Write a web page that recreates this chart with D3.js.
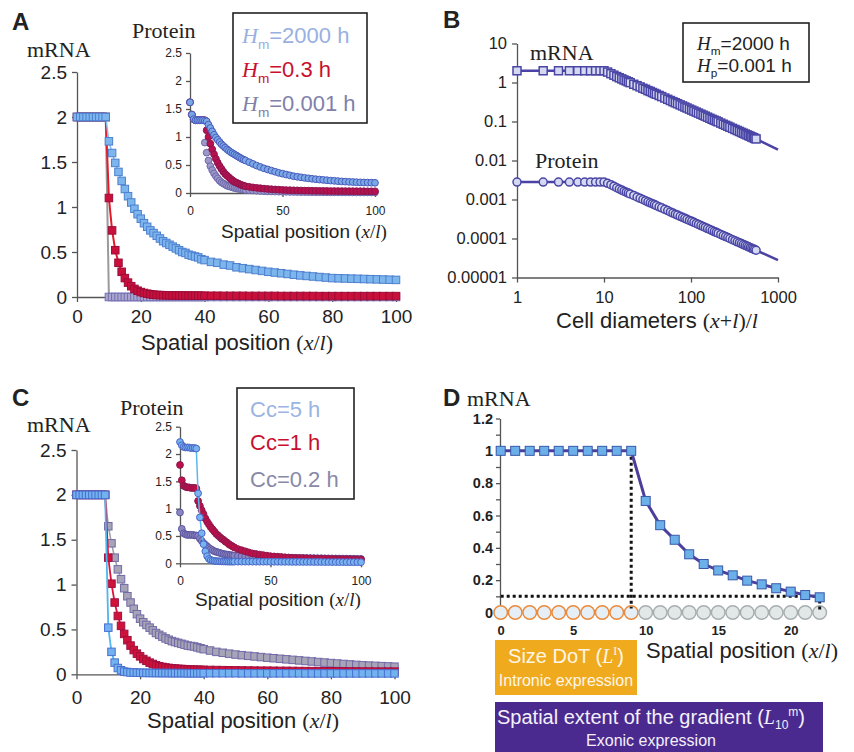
<!DOCTYPE html>
<html>
<head>
<meta charset="utf-8">
<script src="https://cdn.jsdelivr.net/npm/d3@7"></script>
<style>
body { margin: 0; background: #fff; }
text { font-family: "Liberation Sans", Arial, sans-serif; fill: #222; }
.serif { font-family: "Liberation Serif", "Times New Roman", serif; }
</style>
</head>
<body>
<div class="graphic"></div>
<script>
var width = 854;
var height = 752;

// ---- data ----
var xMain = [0,1,2,3,4,5,6,7,8,9,10,11,12,13,14,15,16,17,18,19,20,21,22,23,24,25,26,27,28,29,30,31,32,33,34,35,36,37,38,39,40,
	42,44,46,48,50,52,54,56,58,60,62,64,66,68,70,72,74,76,78,80,82,84,86,88,90,92,94,96,98,100];
var xIns = [0,1,2,3,4,5,6,7,8,9,10,11,12,13,14,15,16,17,18,19,20,21,22,23,24,25,26,27,28,29,30,
	32,34,36,38,40,42,44,46,48,50,52,54,56,58,60,62,64,66,68,70,72,74,76,78,80,82,84,86,88,90,92,94,96,98,100];

// A: mRNA for three Hm values
var aBlue = [2,2,2,2,2,2,2,2,2,2,
	1.73,1.60,1.49,1.39,1.29,1.20,1.12,1.05,0.98,0.92,
	0.87,0.82,0.78,0.74,0.71,0.68,0.65,0.62,0.60,0.58,
	0.56,0.54,0.52,0.50,0.49,0.47,0.46,0.45,0.44,0.42,
	0.41,
	0.39,0.38,0.36,0.35,0.33,0.32,0.31,0.30,0.29,0.28,
	0.272,0.264,0.256,0.248,0.24,0.234,0.228,0.222,0.216,0.21,
	0.208,0.206,0.204,0.202,0.20,0.198,0.196,0.194,0.192,0.19];
var aRed = [2,2,2,2,2,2,2,2,2,2,
	1.10,0.74,0.52,0.38,0.28,0.21,0.16,0.12,0.09,0.07,
	0.055,0.045,0.037,0.03,0.026,0.023,0.021,0.02,0.019,0.018,
	0.017,0.017,0.016,0.016,0.016,0.015,0.015,0.015,0.015,0.014,
	0.014,
	0.014,0.014,0.013,0.013,0.013,0.013,0.012,0.012,0.012,0.012,
	0.012,0.011,0.011,0.011,0.011,0.011,0.011,0.01,0.01,0.01,
	0.01,0.01,0.01,0.01,0.01,0.01,0.01,0.01,0.01,0.01];
var aGray = [2,2,2,2,2,2,2,2,2,2,
	0,0,0,0,0,0,0,0,0,0, 0,0,0,0,0,0,0,0,0,0, 0,0,0,0,0,0,0,0,0,0, 0,
	0,0,0,0,0,0,0,0,0,0, 0,0,0,0,0,0,0,0,0,0, 0,0,0,0,0,0,0,0,0,0];
// A inset: protein
var aPBlue = [1.62,1.40,1.32,1.30,1.30,1.30,1.30,1.30,1.29,1.28,
	1.22,1.16,1.10,1.04,0.99,0.95,0.91,0.87,0.84,0.81,
	0.78,0.755,0.73,0.71,0.69,0.67,0.65,0.63,0.61,0.595,
	0.58,
	0.55,0.52,0.49,0.465,0.44,0.42,0.40,0.38,0.36,0.345,
	0.33,0.315,0.30,0.29,0.28,0.27,0.262,0.254,0.246,0.24,
	0.234,0.228,0.222,0.217,0.212,0.207,0.203,0.199,0.196,0.193,
	0.19,0.188,0.186,0.184,0.182];
var aPRed = [1.62,1.40,1.32,1.30,1.30,1.30,1.30,1.30,1.30,1.12,
	1.0,0.88,0.78,0.69,0.61,0.54,0.48,0.43,0.38,0.34,
	0.31,0.28,0.25,0.225,0.2,0.185,0.17,0.155,0.14,0.13,
	0.12,
	0.11,0.10,0.092,0.085,0.078,0.072,0.067,0.063,0.059,0.055,
	0.052,0.05,0.048,0.046,0.044,0.042,0.041,0.04,0.039,0.038,
	0.037,0.036,0.035,0.035,0.034,0.034,0.033,0.033,0.032,0.032,
	0.031,0.031,0.03,0.03,0.03];
var aPGray = [1.62,1.40,1.32,1.30,1.30,1.30,1.30,1.30,0.90,0.72,
	0.58,0.48,0.41,0.35,0.30,0.26,0.22,0.19,0.17,0.15,
	0.13,0.12,0.11,0.10,0.09,0.082,0.075,0.07,0.065,0.06,
	0.055,
	0.05,0.045,0.04,0.036,0.033,0.03,0.028,0.026,0.024,0.022,
	0.021,0.02,0.019,0.018,0.017,0.016,0.015,0.015,0.014,0.014,
	0.013,0.013,0.012,0.012,0.012,0.011,0.011,0.011,0.01,0.01,
	0.01,0.01,0.01,0.01,0.01];
var legendA = ["=2000 h", "=0.3 h", "=0.001 h"];

// B: log-log, Hm=2000 h, Hp=0.001 h
var bX = [1,2,3,4,5,6,7,8,9,10,
	11,12,13,14,15,16,17,18,19,20,
	22,24,26,28,30,32,34,36,38,40,
	43,46,50,54,58,62,66,70,75,80,
	85,90,96,102,108,115,122,130,138,146,
	155,165,175,185,195,205,220,235,250,265,
	280,300,320,340,360,380,400,420,440,460,
	480,500,520,540,560];
var bMrna = [2,2,2,2,2,2,2,2,2,2,
	1.85,1.68,1.54,1.42,1.32,1.24,1.16,1.10,1.04,0.99,
	0.9,0.83,0.77,0.71,0.67,0.62,0.59,0.555,0.525,0.5,
	0.465,0.435,0.40,0.37,0.345,0.322,0.303,0.286,0.267,0.25,
	0.235,0.222,0.208,0.196,0.185,0.174,0.164,0.154,0.145,0.137,
	0.129,0.121,0.114,0.108,0.103,0.098,0.091,0.085,0.08,0.0755,
	0.0714,0.0667,0.0625,0.0588,0.0556,0.0526,0.05,0.0476,0.0455,0.0435,
	0.0417,0.04,0.0385,0.037,0.0357];
var bProt = [0.0028,0.0028,0.0028,0.0028,0.0028,0.0028,0.0028,0.0028,0.0028,0.0028,
	0.0026,0.0024,0.0022,0.002,0.00186,0.00174,0.00163,0.00154,0.00146,0.00139,
	0.00127,0.00116,0.00107,0.001,0.00093,0.00087,0.00082,0.00078,0.00074,0.0007,
	0.00065,0.00061,0.00056,0.00052,0.00048,0.00045,0.00042,0.0004,0.00037,0.00035,
	0.00033,0.00031,0.00029,0.000275,0.00026,0.000243,0.00023,0.000215,0.000203,0.000192,
	0.00018,0.00017,0.00016,0.000151,0.000144,0.000137,0.000127,0.000119,0.000112,0.000106,
	0.0001,0.000093,0.000088,0.000082,0.000078,0.000074,0.00007,0.000067,0.000064,0.000061,
	0.000058,0.000056,0.000054,0.000052,0.00005];
var bFitX = [560, 1000];
var bFitMrna = [0.0357, 0.019];
var bFitProt = [0.00005, 0.000028];
var bYTicks = [10,1,0.1,0.01,0.001,0.0001,0.00001];
var bYLabels = ["10","1","0.1","0.01","0.001","0.0001","0.00001"];
var bXTicks = [1,10,100,1000];

// C: mRNA for three Cc values
var cBlue = [2,2,2,2,2,2,2,2,2,2,
	0.52,0.25,0.13,0.07,0.045,0.03,0.025,0.02,0.02,0.018,
	0.017,0.016,0.016,0.015,0.015,0.015,0.014,0.014,0.014,0.014,
	0.013,0.013,0.013,0.013,0.013,0.012,0.012,0.012,0.012,0.012,
	0.012,
	0.012,0.012,0.012,0.012,0.012,0.011,0.011,0.011,0.011,0.011,
	0.011,0.011,0.011,0.011,0.011,0.01,0.01,0.01,0.01,0.01,
	0.01,0.01,0.01,0.01,0.01,0.01,0.01,0.01,0.01,0.01];
var cRed = [2,2,2,2,2,2,2,2,2,2,
	1.30,1.01,0.80,0.65,0.54,0.45,0.38,0.32,0.27,0.23,
	0.20,0.17,0.15,0.13,0.115,0.10,0.09,0.082,0.076,0.071,
	0.067,0.064,0.061,0.059,0.057,0.055,0.053,0.052,0.051,0.05,
	0.049,
	0.048,0.047,0.046,0.045,0.044,0.043,0.042,0.041,0.04,0.04,
	0.039,0.038,0.038,0.037,0.036,0.036,0.035,0.035,0.034,0.034,
	0.033,0.033,0.032,0.032,0.031,0.031,0.03,0.03,0.03,0.03];
var cGray = [2,2,2,2,2,2,2,2,2,2,
	1.65,1.46,1.30,1.17,1.06,0.96,0.87,0.80,0.73,0.67,
	0.62,0.58,0.55,0.52,0.49,0.46,0.44,0.42,0.40,0.385,
	0.37,0.36,0.35,0.34,0.33,0.32,0.315,0.31,0.30,0.29,
	0.28,
	0.265,0.25,0.24,0.23,0.22,0.213,0.206,0.199,0.192,0.185,
	0.179,0.173,0.167,0.161,0.155,0.149,0.143,0.137,0.131,0.125,
	0.12,0.115,0.11,0.105,0.10,0.097,0.094,0.091,0.088,0.085];
// C inset: protein
var cPBlue = [2.22,2.16,2.13,2.12,2.12,2.12,2.11,2.11,2.11,2.10,
	1.28,0.84,0.55,0.35,0.22,0.13,0.08,0.06,0.05,0.045,
	0.04,0.038,0.036,0.035,0.034,0.033,0.032,0.031,0.03,0.03,
	0.03,
	0.03,0.03,0.03,0.03,0.03,0.029,0.029,0.029,0.029,0.028,
	0.028,0.028,0.027,0.027,0.027,0.026,0.026,0.026,0.025,0.025,
	0.025,0.024,0.024,0.024,0.023,0.023,0.023,0.022,0.022,0.022,
	0.021,0.021,0.021,0.02,0.02];
var cPRed = [1.80,1.52,1.42,1.40,1.39,1.39,1.38,1.38,1.38,1.37,
	1.14,1.05,0.97,0.90,0.82,0.76,0.71,0.66,0.62,0.58,
	0.54,0.51,0.48,0.45,0.43,0.40,0.38,0.35,0.33,0.31,
	0.29,
	0.26,0.24,0.22,0.20,0.18,0.17,0.16,0.15,0.14,0.13,
	0.125,0.12,0.115,0.11,0.105,0.1,0.098,0.096,0.094,0.092,
	0.09,0.088,0.086,0.084,0.082,0.08,0.079,0.078,0.077,0.076,
	0.075,0.074,0.073,0.072,0.07];
var cPGray = [0.93,0.63,0.55,0.53,0.52,0.52,0.52,0.52,0.51,0.51,
	0.50,0.45,0.41,0.37,0.34,0.31,0.28,0.26,0.24,0.22,
	0.21,0.20,0.19,0.18,0.17,0.165,0.16,0.155,0.15,0.145,
	0.14,
	0.135,0.13,0.127,0.124,0.121,0.118,0.115,0.113,0.111,0.109,
	0.107,0.105,0.103,0.102,0.101,0.1,0.099,0.098,0.097,0.096,
	0.095,0.094,0.093,0.092,0.091,0.09,0.089,0.088,0.087,0.086,
	0.085,0.084,0.083,0.082,0.08];
var legendC = ["Cc=5 h", "Cc=1 h", "Cc=0.2 h"];

// D: one gradient with DoT and L10
var xD = [0,1,2,3,4,5,6,7,8,9,10,11,12,13,14,15,16,17,18,19,20,21,22];
var dVal = [1,1,1,1,1,1,1,1,1,1,0.69,0.54,0.45,0.36,0.30,0.26,0.23,0.197,0.174,0.15,0.129,0.108,0.094];
var dDotEdge = 9;
var dThreshold = 0.1;
var dLast = 22;

var mainYTicks = [0,0.5,1,1.5,2,2.5];
var mainXTicks = [0,20,40,60,80,100];
var insXTicks = [0,50,100];
var dYTicks = [0,0.1,0.2,0.3,0.4,0.5,0.6,0.7,0.8,0.9,1,1.1,1.2];
var dXTicks = [0,5,10,15,20];

// ---- drawing ----
var svg = d3.select("div.graphic").append("svg")
	.attr("width", width)
	.attr("height", height);

function styleAxis(g, size, bold){
	g.attr("font-size", size)
		.attr("font-family", "\"Liberation Sans\", Arial, sans-serif")
		.attr("font-weight", bold ? "bold" : null);
	g.selectAll("path, line").attr("stroke", "#555").attr("stroke-width", 1.3);
	g.selectAll("text").attr("fill", "#222");
	return g;
}

function plotSeries(g, xs, ys, x, y, o){
	var pts = xs.map(function(d, i){ return [d, ys[i]]; });
	if (o.line){
		g.append("path")
			.datum(pts)
			.attr("d", d3.line().x(function(d){ return x(d[0]); }).y(function(d){ return y(d[1]); }))
			.attr("fill", "none")
			.attr("stroke", o.line)
			.attr("stroke-width", o.lw || 1.6);
	}
	var s = o.size;
	var sw = o.sw || 1;
	if (o.shape == "square"){
		g.selectAll(null).data(pts).enter().append("rect")
			.attr("x", function(d){ return x(d[0]) - s/2; })
			.attr("y", function(d){ return y(d[1]) - s/2; })
			.attr("width", s).attr("height", s)
			.attr("fill", o.fill).attr("stroke", o.stroke).attr("stroke-width", sw);
	} else {
		g.selectAll(null).data(pts).enter().append("circle")
			.attr("cx", function(d){ return x(d[0]); })
			.attr("cy", function(d){ return y(d[1]); })
			.attr("r", s/2)
			.attr("fill", o.fill).attr("stroke", o.stroke).attr("stroke-width", sw);
	}
}

function addText(g, x, y, str, size, opts){
	opts = opts || {};
	return g.append("text").attr("x", x).attr("y", y).attr("font-size", size)
		.attr("class", opts.serif ? "serif" : null)
		.attr("font-weight", opts.bold ? "bold" : null)
		.attr("text-anchor", opts.anchor || "start")
		.style("fill", opts.color || "#222")
		.text(str);
}

// "Spatial position (x/l)"
function spatialLabel(g, x, y, size, anchor){
	var t = g.append("text").attr("x", x).attr("y", y).attr("font-size", size)
		.attr("text-anchor", anchor || "middle");
	t.append("tspan").text("Spatial position ");
	t.append("tspan").attr("class", "serif").text("(");
	t.append("tspan").attr("class", "serif").attr("font-style", "italic").text("x");
	t.append("tspan").attr("class", "serif").text("/");
	t.append("tspan").attr("class", "serif").attr("font-style", "italic").text("l");
	t.append("tspan").attr("class", "serif").text(")");
	return t;
}

// H with subscript
function hText(g, x, y, sub, rest, size, color){
	var t = g.append("text").attr("x", x).attr("y", y).attr("font-size", size).style("fill", color);
	t.append("tspan").attr("class", "serif").attr("font-style", "italic").style("fill", color).text("H");
	t.append("tspan").attr("font-size", size*0.62).attr("dy", size*0.28).style("fill", color).text(sub);
	t.append("tspan").attr("dy", -size*0.28).style("fill", color).text(rest);
}

// ===== Panel A =====
var pA = svg.append("g");
var xA = d3.scaleLinear().domain([0,100]).range([77,396]);
var yA = d3.scaleLinear().domain([0,2.5]).range([297,72]);
styleAxis(pA.append("g").attr("transform", "translate(77,0)")
	.call(d3.axisLeft(yA).tickValues(mainYTicks).tickSize(5).tickSizeOuter(0).tickPadding(5).tickFormat(d3.format(""))), 19);
styleAxis(pA.append("g").attr("transform", "translate(0,297)")
	.call(d3.axisBottom(xA).tickValues(mainXTicks).tickSize(5).tickSizeOuter(0).tickPadding(8)), 19);
plotSeries(pA, xMain, aGray, xA, yA, {shape:"square", size:7.5, fill:"#aaa6cc", stroke:"#7470b4", line:"#9a9a9a", lw:2});
plotSeries(pA, xMain, aRed, xA, yA, {shape:"square", size:7.5, fill:"#c8103a", stroke:"#9c0c3a", line:"#e41b2c", lw:2});
plotSeries(pA, xMain, aBlue, xA, yA, {shape:"square", size:7.5, fill:"#7cb6ec", stroke:"#4d7fd0", line:"#7fbfee", lw:1.5});
addText(pA, 12, 30, "A", 24, {bold:true});
addText(pA, 27, 57, "mRNA", 22, {serif:true});
spatialLabel(pA, 237, 350, 22);

// inset
var xAi = d3.scaleLinear().domain([0,100]).range([190,375]);
var yAi = d3.scaleLinear().domain([0,2.5]).range([193,53]);
styleAxis(pA.append("g").attr("transform", "translate(190,0)")
	.call(d3.axisLeft(yAi).tickValues(mainYTicks).tickSize(4).tickSizeOuter(0).tickPadding(4).tickFormat(d3.format(""))), 12);
styleAxis(pA.append("g").attr("transform", "translate(0,193)")
	.call(d3.axisBottom(xAi).tickValues(insXTicks).tickSize(4).tickSizeOuter(0).tickPadding(9)), 12);
plotSeries(pA, xIns, aPGray, xAi, yAi, {shape:"circle", size:6.8, fill:"#9c98c8", stroke:"#6c68ac"});
plotSeries(pA, xIns, aPRed, xAi, yAi, {shape:"circle", size:6.8, fill:"#b5124e", stroke:"#8c1450"});
plotSeries(pA, xIns, aPBlue, xAi, yAi, {shape:"circle", size:6.8, fill:"#7aa8e6", stroke:"#4a5cbc"});
addText(pA, 132, 38, "Protein", 22, {serif:true});
spatialLabel(pA, 304, 238, 19);

// legend A
pA.append("rect").attr("x", 233).attr("y", 13).attr("width", 134).attr("height", 110)
	.attr("fill", "#fff").attr("stroke", "#222").attr("stroke-width", 1.6);
var legColA = ["#98b0e2", "#c8102e", "#8080aa"];
legendA.forEach(function(s, i){
	hText(pA, 242, [43, 77, 111][i], "m", s, 22, legColA[i]);
});

// ===== Panel B =====
var pB = svg.append("g");
var xB = d3.scaleLog().domain([1,1000]).range([517,778]);
var yB = d3.scaleLog().domain([0.00001,10]).range([277.5,43.5]);
styleAxis(pB.append("g").attr("transform", "translate(517,0)")
	.call(d3.axisLeft(yB).tickValues(bYTicks).tickSize(5).tickSizeOuter(0).tickPadding(5)
		.tickFormat(function(d, i){ return bYLabels[i]; })), 16.5);
styleAxis(pB.append("g").attr("transform", "translate(0,277.5)")
	.call(d3.axisBottom(xB).tickValues(bXTicks).tickSize(5).tickSizeOuter(0).tickPadding(9).tickFormat(d3.format(""))), 16.5);
var bLine = d3.line().x(function(d){ return xB(d[0]); }).y(function(d){ return yB(d[1]); });
[bFitMrna, bFitProt].forEach(function(f){
	pB.append("path").datum(bFitX.map(function(d, i){ return [d, f[i]]; }))
		.attr("d", bLine).attr("fill", "none").attr("stroke", "#4a42a4").attr("stroke-width", 2.5);
});
plotSeries(pB, bX, bMrna, xB, yB, {shape:"square", size:8, fill:"#d4d8f0", stroke:"#4a46a6", sw:1.5, line:"#4a42a4", lw:2.5});
plotSeries(pB, bX, bProt, xB, yB, {shape:"circle", size:8, fill:"#d4d8f0", stroke:"#4a46a6", sw:1.5, line:"#4a42a4", lw:2.5});
addText(pB, 443, 28, "B", 24, {bold:true});
addText(pB, 530, 60, "mRNA", 22, {serif:true});
addText(pB, 535, 168, "Protein", 22, {serif:true});
(function(){
	var t = pB.append("text").attr("x", 657).attr("y", 328).attr("font-size", 22).attr("text-anchor", "middle");
	t.append("tspan").text("Cell diameters ");
	t.append("tspan").attr("class", "serif").text("(");
	t.append("tspan").attr("class", "serif").attr("font-style", "italic").text("x");
	t.append("tspan").attr("class", "serif").text("+");
	t.append("tspan").attr("class", "serif").attr("font-style", "italic").text("l");
	t.append("tspan").attr("class", "serif").text(")/");
	t.append("tspan").attr("class", "serif").attr("font-style", "italic").text("l");
})();
pB.append("rect").attr("x", 683).attr("y", 23).attr("width", 126).attr("height", 59)
	.attr("fill", "#fff").attr("stroke", "#222").attr("stroke-width", 1.6);
hText(pB, 697, 50, "m", "=2000 h", 19, "#222");
hText(pB, 697, 72, "p", "=0.001 h", 19, "#222");

// ===== Panel C =====
var pC = svg.append("g");
var xC = d3.scaleLinear().domain([0,100]).range([76.5,394.5]);
var yC = d3.scaleLinear().domain([0,2.5]).range([674.3,450]);
styleAxis(pC.append("g").attr("transform", "translate(76.5,0)")
	.call(d3.axisLeft(yC).tickValues(mainYTicks).tickSize(5).tickSizeOuter(0).tickPadding(5).tickFormat(d3.format(""))), 19);
styleAxis(pC.append("g").attr("transform", "translate(0,674.3)")
	.call(d3.axisBottom(xC).tickValues(mainXTicks).tickSize(5).tickSizeOuter(0).tickPadding(11)), 19);
plotSeries(pC, xMain, cGray, xC, yC, {shape:"square", size:7.5, fill:"#a6a4b6", stroke:"#726aa8", line:"#a0a0a8", lw:1.6});
plotSeries(pC, xMain, cRed, xC, yC, {shape:"square", size:7.5, fill:"#d0123a", stroke:"#a01040", line:"#e0103c", lw:1.8});
plotSeries(pC, xMain, cBlue, xC, yC, {shape:"square", size:7.5, fill:"#72b2ee", stroke:"#4a6ed0", line:"#4fb6ee", lw:1.8});
addText(pC, 12, 406, "C", 24, {bold:true});
addText(pC, 27, 432, "mRNA", 22, {serif:true});
spatialLabel(pC, 243, 728, 22);

var xCi = d3.scaleLinear().domain([0,100]).range([180,361]);
var yCi = d3.scaleLinear().domain([0,2.5]).range([563.3,426.7]);
styleAxis(pC.append("g").attr("transform", "translate(180,0)")
	.call(d3.axisLeft(yCi).tickValues(mainYTicks).tickSize(4).tickSizeOuter(0).tickPadding(4).tickFormat(d3.format(""))), 12);
styleAxis(pC.append("g").attr("transform", "translate(0,563.3)")
	.call(d3.axisBottom(xCi).tickValues(insXTicks).tickSize(4).tickSizeOuter(0).tickPadding(9)), 12);
plotSeries(pC, xIns, cPGray, xCi, yCi, {shape:"circle", size:6.8, fill:"#8c86c0", stroke:"#5c56a2"});
plotSeries(pC, xIns, cPRed, xCi, yCi, {shape:"circle", size:6.8, fill:"#be1048", stroke:"#8e1850"});
plotSeries(pC, xIns, cPBlue, xCi, yCi, {shape:"circle", size:6.8, fill:"#78b2f0", stroke:"#4a66c6", line:"#5ab8f0", lw:1.5});
addText(pC, 120, 415, "Protein", 22, {serif:true});
spatialLabel(pC, 278, 606, 19);

pC.append("rect").attr("x", 237).attr("y", 388).attr("width", 117).attr("height", 111)
	.attr("fill", "#fff").attr("stroke", "#222").attr("stroke-width", 1.6);
var legColC = ["#9ab4e4", "#c8102e", "#8888a8"];
legendC.forEach(function(s, i){
	addText(pC, 250, [417, 450, 487][i], s, 22, {color: legColC[i]});
});

// ===== Panel D =====
var pD = svg.append("g");
var xDs = d3.scaleLinear().domain([0,22]).range([500.7,819.7]);
var yDs = d3.scaleLinear().domain([0,1.2]).range([612.5,418.5]);
styleAxis(pD.append("g").attr("transform", "translate(500,0)")
	.call(d3.axisLeft(yDs).tickValues(dYTicks).tickSize(4).tickSizeOuter(0).tickPadding(3)
		.tickFormat(function(d, i){ return i % 2 == 0 ? d3.format("")(+d.toFixed(1)) : ""; })), 14.5, true);
var dxAxis = styleAxis(pD.append("g").attr("transform", "translate(0,624)")
	.call(d3.axisBottom(xDs).tickValues(dXTicks).tickSize(0).tickPadding(2)), 13, true);
dxAxis.select(".domain").remove();

// cell row at y = 0
pD.selectAll(null).data(xD).enter().append("circle")
	.attr("cx", function(d){ return xDs(d); })
	.attr("cy", yDs(0))
	.attr("r", 6.8)
	.attr("fill", function(d){ return d <= dDotEdge ? "#e6eef6" : "#e2e8e8"; })
	.attr("stroke", function(d){ return d <= dDotEdge ? "#e98a3c" : "#a8aeb0"; })
	.attr("stroke-width", 1.5);

// dotted guides
var dots = {stroke:"#111", "stroke-width":3, "stroke-dasharray":"3,3", fill:"none"};
function dotted(x1, y1, x2, y2){
	var l = pD.append("line").attr("x1", x1).attr("y1", y1).attr("x2", x2).attr("y2", y2);
	Object.keys(dots).forEach(function(k){ l.attr(k, dots[k]); });
}
dotted(xDs(0), yDs(dThreshold), xDs(dLast), yDs(dThreshold));
dotted(xDs(dDotEdge), yDs(1), xDs(dDotEdge), yDs(0) - 4);
dotted(xDs(dLast), yDs(0.075), xDs(dLast), yDs(0) - 2);

plotSeries(pD, xD, dVal, xDs, yDs, {shape:"square", size:9, fill:"#6cb0ea", stroke:"#3858a8", line:"#4c3f9c", lw:3});
addText(pD, 443, 406, "D", 24, {bold:true});
addText(pD, 467, 406, "mRNA", 22, {serif:true});
spatialLabel(pD, 646, 658, 22, "start");

// bottom boxes
pD.append("rect").attr("x", 495).attr("y", 640).attr("width", 142).attr("height", 55).attr("fill", "#f0aa1e");
(function(){
	var t = pD.append("text").attr("x", 566).attr("y", 663).attr("font-size", 20).attr("text-anchor", "middle").style("fill", "#fdf6e8");
	t.append("tspan").style("fill", "#fdf6e8").text("Size DoT  (");
	t.append("tspan").attr("class", "serif").attr("font-style", "italic").style("fill", "#fdf6e8").text("L");
	t.append("tspan").attr("class", "serif").attr("font-size", 12).attr("dy", -8).style("fill", "#fdf6e8").text("I");
	t.append("tspan").attr("dy", 8).style("fill", "#fdf6e8").text(")");
})();
addText(pD, 566, 686, "Intronic expression", 16, {anchor:"middle", color:"#fdf6e8"});

pD.append("rect").attr("x", 495).attr("y", 702).attr("width", 328).attr("height", 50).attr("fill", "#4b2a8f");
(function(){
	var t = pD.append("text").attr("x", 651).attr("y", 724).attr("font-size", 20).attr("text-anchor", "middle").style("fill", "#f4f0fa");
	t.append("tspan").style("fill", "#f4f0fa").text("Spatial extent of the gradient  (");
	t.append("tspan").attr("class", "serif").attr("font-style", "italic").style("fill", "#f4f0fa").text("L");
	t.append("tspan").attr("font-size", 12).attr("dy", 5).style("fill", "#f4f0fa").text("10");
	t.append("tspan").attr("font-size", 12).attr("dy", -13).style("fill", "#f4f0fa").text("m");
	t.append("tspan").attr("dy", 8).style("fill", "#f4f0fa").text(")");
})();
addText(pD, 651, 746, "Exonic expression", 16, {anchor:"middle", color:"#f4f0fa"});
</script>
</body>
</html>
